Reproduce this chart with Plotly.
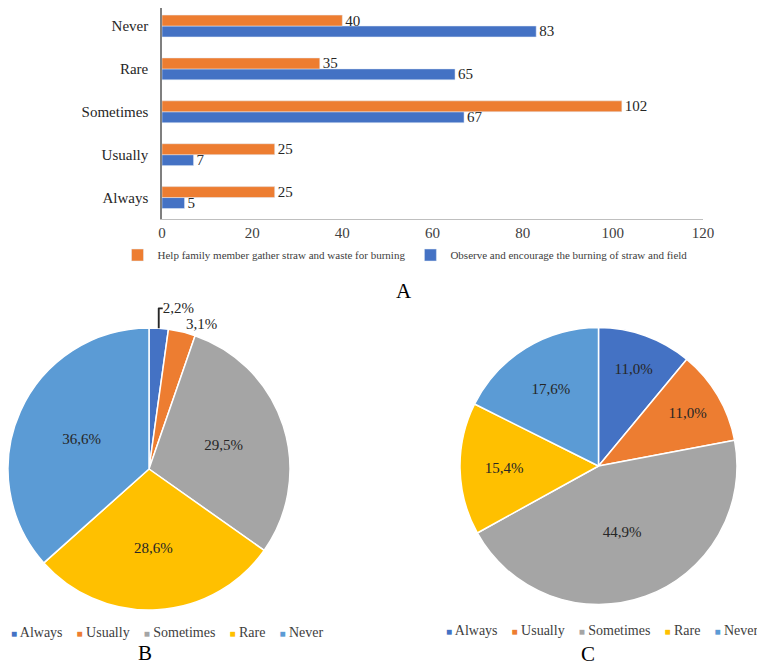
import plotly.graph_objects as go

# ---- Data ----
categories = ["Always", "Usually", "Sometimes", "Rare", "Never"]
help_family = [25, 25, 102, 35, 40]      # Help family member gather straw and waste for burning
observe = [5, 7, 67, 65, 83]              # Observe and encourage the burning of straw and field
x_ticks = [0, 20, 40, 60, 80, 100, 120]

pie_labels = ["Always", "Usually", "Sometimes", "Rare", "Never"]
pie_b_values = [2.2, 3.1, 29.5, 28.6, 36.6]
pie_c_values = [11.0, 11.0, 44.9, 15.4, 17.6]

ORANGE = "#ED7D31"
BLUE = "#4472C4"
pie_colors = ["#4472C4", "#ED7D31", "#A5A5A5", "#FFC000", "#5B9BD5"]
FONT = "Liberation Serif, Times New Roman, serif"

# page body has an 8px default margin -> figure drawn at (8, 8)
W, H = 757, 658


def px(sx):
    return (sx - 8) / W


def py(sy):
    return 1 - (sy - 8) / H


def pct(v):
    return f"{v:.1f}%".replace(".", ",")


def legend_text(labels, colors):
    parts = []
    for lab, col in zip(labels, colors):
        parts.append(f"<span style='color:{col};font-size:10px'>■</span> {lab}")
    return ("&nbsp;" * 4).join(parts)


fig = go.Figure()

# Bars (blue first so it sits below orange in each group)
fig.add_trace(go.Bar(
    y=categories, x=observe, orientation="h", name="Observe and encourage the burning of straw and field",
    marker=dict(color=BLUE), text=[str(v) for v in observe], textposition="outside",
    constraintext="none",
    textfont=dict(family=FONT, size=15, color="#262626"), cliponaxis=False,
    legendrank=2,
))
fig.add_trace(go.Bar(
    y=categories, x=help_family, orientation="h", name="Help family member gather straw and waste for burning",
    marker=dict(color=ORANGE), text=[str(v) for v in help_family], textposition="outside",
    constraintext="none",
    textfont=dict(family=FONT, size=15, color="#262626"), cliponaxis=False,
    legendrank=1,
))

# Pie B
fig.add_trace(go.Pie(
    labels=pie_labels, values=pie_b_values, sort=False, direction="clockwise", rotation=0,
    marker=dict(colors=pie_colors, line=dict(color="white", width=1.5)),
    text=[pct(v) for v in pie_b_values], textinfo="text",
    textposition=["outside", "outside", "inside", "inside", "inside"],
    insidetextorientation="horizontal",
    textfont=dict(family=FONT, size=15, color="#262626"),
    domain=dict(x=[px(8), px(290)], y=[py(610), py(328)]),
    showlegend=False, hoverinfo="label+percent",
))

# Pie C
fig.add_trace(go.Pie(
    labels=pie_labels, values=pie_c_values, sort=False, direction="clockwise", rotation=0,
    marker=dict(colors=pie_colors, line=dict(color="white", width=1.5)),
    text=[pct(v) for v in pie_c_values], textinfo="text", textposition="inside",
    insidetextorientation="horizontal",
    textfont=dict(family=FONT, size=15, color="#262626"),
    domain=dict(x=[px(460), px(737)], y=[py(604.5), py(327.5)]),
    showlegend=False, hoverinfo="label+percent",
))

fig.update_layout(
    width=W, height=H,
    margin=dict(l=0, r=0, t=0, b=0, autoexpand=False),
    paper_bgcolor="white", plot_bgcolor="white",
    font=dict(family=FONT, color="#404040"),
    barmode="group", bargap=0.49, bargroupgap=0,
    xaxis=dict(
        domain=[px(162), px(703)], range=[0, 120], tickvals=x_ticks, automargin=False,
        showgrid=False, zeroline=False, showline=True, linecolor="#BFBFBF", linewidth=1,
        ticks="", tickfont=dict(family=FONT, size=15, color="#404040"),
    ),
    yaxis=dict(
        domain=[py(219), 1], range=[-0.5, 4.42], automargin=False,
        showgrid=False, zeroline=False, showline=True, linecolor="#7F7F7F", linewidth=1.5,
        ticks="", ticklabelstandoff=9, tickfont=dict(family=FONT, size=15, color="#262626"),
    ),
    showlegend=True,
    legend=dict(
        orientation="h", x=px(405), xanchor="center", y=py(255), yanchor="middle",
        font=dict(family=FONT, size=11, color="#404040"), traceorder="normal",
        itemwidth=30, bgcolor="rgba(0,0,0,0)",
    ),
    annotations=[
        dict(text=legend_text(pie_labels, pie_colors), x=px(9), y=py(632),
             xref="paper", yref="paper", showarrow=False, xanchor="left", yanchor="middle",
             font=dict(family=FONT, size=14, color="#404040")),
        dict(text=legend_text(pie_labels, pie_colors), x=px(602), y=py(630),
             xref="paper", yref="paper", showarrow=False, xanchor="center", yanchor="middle",
             font=dict(family=FONT, size=14, color="#404040")),
        dict(text="A", x=px(404), y=py(291), xref="paper", yref="paper",
             showarrow=False, xanchor="center", yanchor="middle",
             font=dict(family=FONT, size=21, color="#000000")),
        dict(text="B", x=px(145), y=0, xref="paper", yref="paper",
             showarrow=False, xanchor="center", yanchor="bottom", borderpad=0,
             font=dict(family=FONT, size=21, color="#000000")),
        dict(text="C", x=px(588), y=py(654), xref="paper", yref="paper",
             showarrow=False, xanchor="center", yanchor="middle",
             font=dict(family=FONT, size=21, color="#000000")),
    ],
)

fig.write_html("out.html")
